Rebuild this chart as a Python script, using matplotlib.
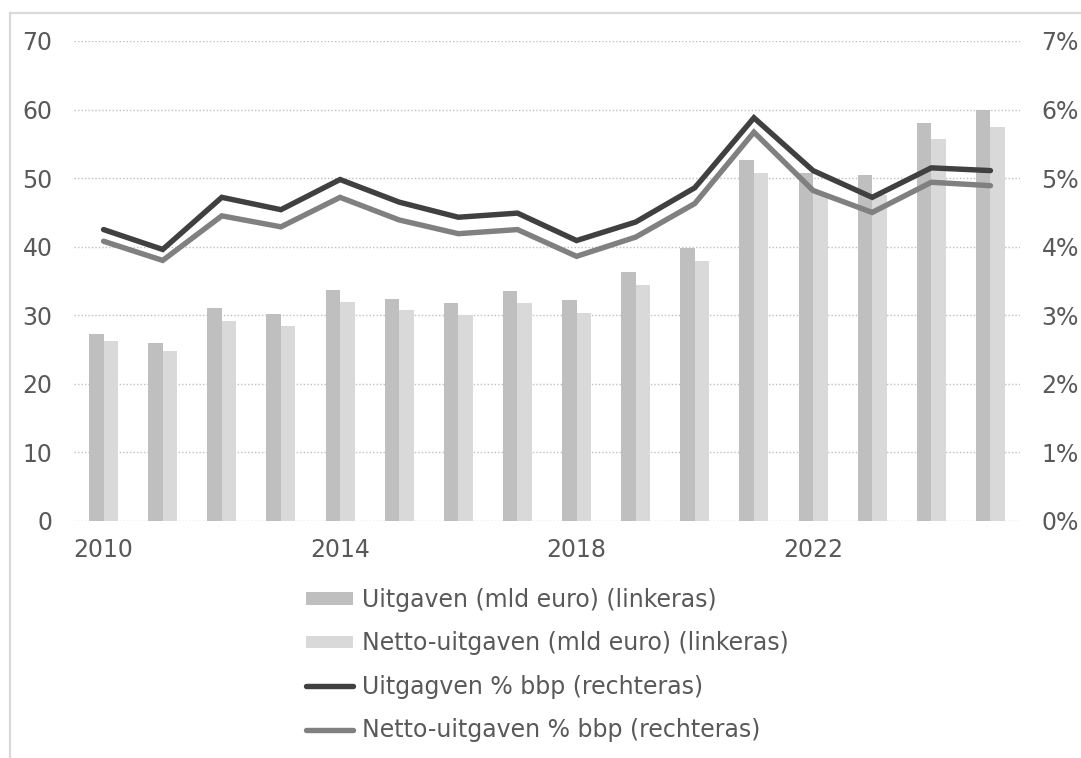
import matplotlib
matplotlib.use("Agg")
import matplotlib.pyplot as plt
import numpy as np
from matplotlib.lines import Line2D
from matplotlib.patches import Patch

years = list(range(2010, 2026))
uitgaven = [27.3, 25.9, 31.1, 30.2, 33.7, 32.4, 31.8, 33.5, 32.2, 36.3, 39.8, 52.6, 50.7, 50.4, 58.1, 60.0]
netto_uitgaven = [26.2, 24.8, 29.2, 28.5, 32.0, 30.7, 30.1, 31.8, 30.3, 34.4, 37.9, 50.7, 47.8, 47.5, 55.7, 57.5]
uitgaven_pct = [4.25, 3.96, 4.72, 4.54, 4.98, 4.65, 4.43, 4.49, 4.09, 4.36, 4.86, 5.88, 5.11, 4.72, 5.15, 5.11]
netto_pct = [4.08, 3.80, 4.45, 4.29, 4.72, 4.39, 4.19, 4.25, 3.86, 4.14, 4.63, 5.67, 4.82, 4.50, 4.94, 4.89]
x_ticklabels = ["2010", "2014", "2018", "2022"]
left_ticks = [0, 10, 20, 30, 40, 50, 60, 70]
right_ticks = ["0%", "1%", "2%", "3%", "4%", "5%", "6%", "7%"]
labels = ["Uitgaven (mld euro) (linkeras)", "Netto-uitgaven (mld euro) (linkeras)",
          "Uitgagven % bbp (rechteras)", "Netto-uitgaven % bbp (rechteras)"]

W, H = 1081, 758
fig = plt.figure(figsize=(W / 100, H / 100), dpi=100)
plt.rcParams['font.family'] = ['DejaVu Sans']
txt = '#595959'
fs = 17

ax = fig.add_axes([74 / W, 1 - 521 / H, 946 / W, 480 / H])
x = np.arange(len(years))
bw = 0.245
ax.bar(x - bw / 2, uitgaven, width=bw, color='#bfbfbf', zorder=2)
ax.bar(x + bw / 2, netto_uitgaven, width=bw, color='#d9d9d9', zorder=2)
ax.set_xlim(-0.5, len(years) - 0.5)
ax.set_ylim(0, 70)
ax.set_yticks(left_ticks)
ax.yaxis.grid(True, linestyle=(0, (1, 1.5)), color='#bfbfbf', linewidth=1.0, zorder=0)
ax.set_axisbelow(True)
ax.set_xticks([years.index(int(l)) for l in x_ticklabels])
ax.set_xticklabels(x_ticklabels)
ax.tick_params(axis='both', length=0, labelsize=fs, colors=txt)
ax.tick_params(axis='y', pad=15.5)
ax.tick_params(axis='x', pad=12)
for s in ax.spines.values():
    s.set_visible(False)

ax2 = ax.twinx()
ax2.plot(x, uitgaven_pct, color='#404040', linewidth=3.9, solid_capstyle='round', solid_joinstyle='miter', zorder=3)
ax2.plot(x, netto_pct, color='#808080', linewidth=3.9, solid_capstyle='round', solid_joinstyle='miter', zorder=3)
ax2.set_ylim(0, 7)
ax2.set_yticks(range(8))
ax2.set_yticklabels(right_ticks)
ax2.tick_params(axis='y', length=0, labelsize=fs, colors=txt, pad=15.5)
for s in ax2.spines.values():
    s.set_visible(False)

handles = [Patch(facecolor='#bfbfbf', edgecolor='none'),
           Patch(facecolor='#d9d9d9', edgecolor='none'),
           Line2D([0], [0], color='#404040', linewidth=3.9, solid_capstyle='round'),
           Line2D([0], [0], color='#808080', linewidth=3.9, solid_capstyle='round')]
leg = fig.legend(handles, labels, loc='upper left', bbox_to_anchor=(306 / W, 1 - 588 / H),
                 frameon=False, fontsize=fs, handlelength=2.0, handleheight=0.45,
                 handletextpad=0.38, labelspacing=0.82, borderpad=0, borderaxespad=0)
for t in leg.get_texts():
    t.set_color(txt)

# outer chart frame (partially visible)
x0 = 9.5 / W
yt = 1 - 13 / H
fig.add_artist(Line2D([x0, 1.0], [yt, yt], transform=fig.transFigure, color='#d9d9d9', linewidth=1.6))
fig.add_artist(Line2D([x0, x0], [0, yt], transform=fig.transFigure, color='#d9d9d9', linewidth=1.6))

fig.savefig('out.png', dpi=100)
